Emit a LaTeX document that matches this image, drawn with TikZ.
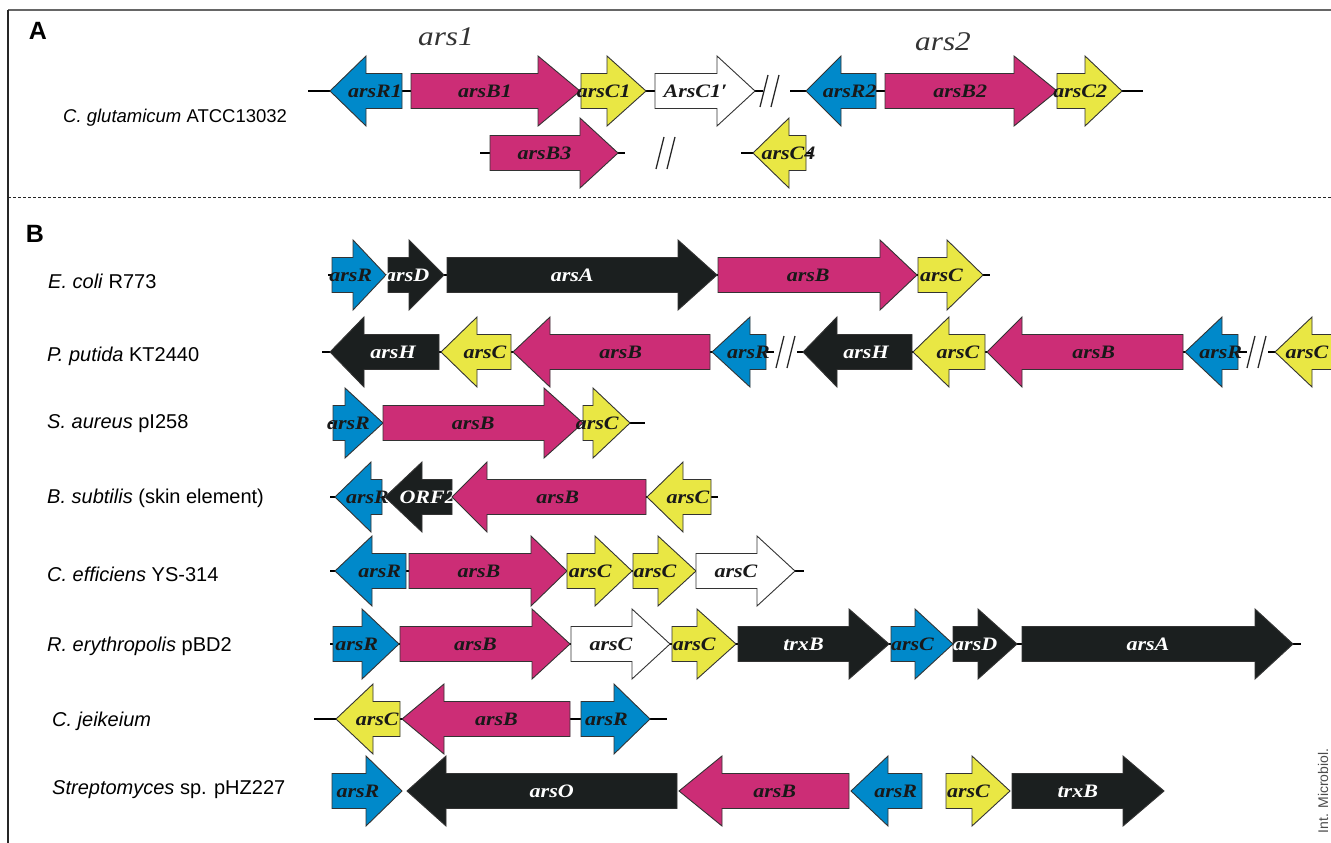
\documentclass[tikz,border=0pt]{standalone}
\usepackage{fontspec}
\setmainfont{Liberation Sans}
\newfontfamily\genefont[FakeStretch=1.16]{Liberation Serif}
\definecolor{cblue}{HTML}{0089CA}
\definecolor{cmag}{HTML}{CC2D76}
\definecolor{cyel}{HTML}{E9E744}
\definecolor{cblk}{HTML}{1B1F1F}
\definecolor{cwht}{HTML}{FFFFFF}
\colorlet{tblue}{black!90}
\colorlet{tmag}{black!90}
\colorlet{tyel}{black!90}
\colorlet{twht}{black!90}
\colorlet{tblk}{white}
\tikzset{
  genebox/.style={draw=black!80, line width=0.9pt, line join=miter},
  genelabel/.style={inner sep=0pt, font=\genefont\bfseries\itshape\fontsize{19}{20}\selectfont},
  backbone/.style={draw=black, line width=1.5pt},
  brkline/.style={draw=black!85, line width=1.3pt},
  species/.style={anchor=west, inner sep=0pt, font=\fontsize{20}{22}\selectfont},
  panel/.style={inner sep=0pt, font=\bfseries\fontsize{25}{27}\selectfont},
  cluster/.style={inner sep=0pt, text=black!80, font=\genefont\itshape\fontsize{27}{30}\selectfont}
}
% arrow body only: #1 tail x, #2 head base x, #3 tip x, #4 y, #5 colour key
\newcommand\genearrow[5]{%
  \draw[genebox, fill=c#5] (#1,#4-17.5) -- (#2,#4-17.5) -- (#2,#4-35) -- (#3,#4) -- (#2,#4+35) -- (#2,#4+17.5) -- (#1,#4+17.5) -- cycle;}
% #1 name, #2 tail x, #3 head base x, #4 tip x, #5 y, #6 colour key, #7 label
\newcommand\gene[7]{%
  \genearrow{#2}{#3}{#4}{#5}{#6}
  \node[genelabel, text=t#6] (#1) at ({(2*#2+#3+#4)/4},#5) {#7};}
\newcommand\brk[2]{%
  \draw[brkline] (#1-10,#2+16) -- (#1-2,#2-16);
  \draw[brkline] (#1+1,#2+16) -- (#1+9,#2-16);}
\begin{document}
\begin{tikzpicture}[x=1pt,y=-1pt]
\useasboundingbox (0,0) rectangle (1331,843);
% frame
\draw[black!60, line width=1.3pt] (8,10) -- (1331,10);
\draw[black!85, line width=1.2pt] (8,10) -- (8,843);
\draw[black!85, line width=1pt, dash pattern=on 3pt off 2pt] (8,197) -- (1331,197);
\node[panel] (pA) at (38,31) {A};
\node[panel] (pB) at (35,234) {B};
\node[cluster] (c1) at (446,37) {ars1};
\node[cluster] (c2) at (943,42) {ars2};
\node[rotate=90, inner sep=0pt, text=black!70, font=\fontsize{14}{15}\selectfont] (cred) at (1323,791) {Int. Microbiol.};

% species labels
\node[species, font=\fontsize{18.5}{20}\selectfont] (sA) at (63,118) {\textit{C. glutamicum} ATCC13032};
\node[species] (s1) at (48,281) {\textit{E. coli} R773};
\node[species] (s2) at (47,356) {\textit{P. putida} KT2440};
\node[species] (s3) at (47,424) {\textit{S. aureus} pI258};
\node[species] (s4) at (47,498) {\textit{B. subtilis} (skin element)};
\node[species] (s5) at (47,574) {\textit{C. efficiens} YS-314};
\node[species] (s6) at (47,646) {\textit{R. erythropolis} pBD2};
\node[species] (s7) at (52,721) {\textit{C. jeikeium}};
\node[species] (s8) at (52,790) {\textit{Streptomyces} sp. pHZ227};

% ---- Panel A
\draw[backbone] (308,91) -- (763,91);
\draw[backbone] (790,91) -- (1143,91);
\brk{770}{91}
\gene{aR1}{402}{366}{330}{91}{blue}{arsR1}
\gene{aB1}{411}{538}{580}{91}{mag}{arsB1}
\gene{aC1}{581}{607}{646}{91}{yel}{arsC1}
\gene{aC1p}{655}{717}{755}{91}{wht}{ArsC1′}
\gene{aR2}{876}{841}{806}{91}{blue}{arsR2}
\gene{aB2}{885}{1014}{1057}{91}{mag}{arsB2}
\gene{aC2}{1057}{1085}{1122}{91}{yel}{arsC2}

\draw[backbone] (480,153) -- (625,153);
\draw[backbone] (741,153) -- (813,153);
\brk{666}{153}
\gene{aB3}{490}{580}{618}{153}{mag}{arsB3}
\gene{aC4}{806}{789}{753}{153}{yel}{arsC4}

% ---- E. coli R773
\draw[backbone] (328,275) -- (990,275);
\gene{eR}{332}{353}{386}{275}{blue}{arsR}
\gene{eD}{388}{409}{444}{275}{blk}{arsD}
\gene{eA}{447}{678}{717}{275}{blk}{arsA}
\gene{eB}{718}{880}{917}{275}{mag}{arsB}
\gene{eC}{918}{947}{983}{275}{yel}{arsC}

% ---- P. putida KT2440
\draw[backbone] (322,352) -- (774,352);
\draw[backbone] (797,352) -- (1247,352);
\draw[backbone] (1268,352) -- (1331,352);
\brk{786}{352}
\brk{1257}{352}
\gene{pH1}{439}{364}{330}{352}{blk}{arsH}
\gene{pC1}{511}{477}{441}{352}{yel}{arsC}
\gene{pB1}{710}{550}{513}{352}{mag}{arsB}
\gene{pR1}{766}{750}{712}{352}{blue}{arsR}
\gene{pH2}{912}{837}{803}{352}{blk}{arsH}
\gene{pC2}{985}{949}{913}{352}{yel}{arsC}
\gene{pB2}{1183}{1022}{987}{352}{mag}{arsB}
\gene{pR2}{1238}{1222}{1185}{352}{blue}{arsR}
\genearrow{1335}{1312}{1275}{352}{yel}
\node[genelabel, text=tyel] (pC3) at (1307,352) {arsC};

% ---- S. aureus pI258
\draw[backbone] (330,423) -- (645,423);
\gene{sR}{333}{345}{383}{423}{blue}{arsR}
\gene{sB}{383}{544}{583}{423}{mag}{arsB}
\gene{sC}{583}{593}{630}{423}{yel}{arsC}

% ---- B. subtilis
\draw[backbone] (330,497) -- (718,497);
\gene{bR}{382}{371}{335}{497}{blue}{arsR}
\gene{bO}{452}{422}{385}{497}{blk}{ORF2}
\gene{bB}{646}{487}{452}{497}{mag}{arsB}
\gene{bC}{711}{683}{647}{497}{yel}{arsC}

% ---- C. efficiens YS-314
\draw[backbone] (330,571) -- (804,571);
\gene{cR}{406}{372}{335}{571}{blue}{arsR}
\gene{cB}{409}{531}{567}{571}{mag}{arsB}
\gene{cC1}{567}{595}{632}{571}{yel}{arsC}
\gene{cC2}{633}{658}{696}{571}{yel}{arsC}
\gene{cC3}{696}{757}{795}{571}{wht}{arsC}

% ---- R. erythropolis pBD2
\draw[backbone] (330,644) -- (1301,644);
\gene{rR}{333}{362}{399}{644}{blue}{arsR}
\gene{rB}{400}{532}{570}{644}{mag}{arsB}
\gene{rC1}{571}{632}{670}{644}{wht}{arsC}
\gene{rC2}{672}{697}{736}{644}{yel}{arsC}
\gene{rT}{738}{849}{889}{644}{blk}{trxB}
\gene{rC3}{891}{915}{953}{644}{blue}{arsC}
\gene{rD}{953}{978}{1017}{644}{blk}{arsD}
\gene{rA}{1022}{1255}{1293}{644}{blk}{arsA}

% ---- C. jeikeium
\draw[backbone] (314,719) -- (667,719);
\gene{jC}{400}{373}{336}{719}{yel}{arsC}
\gene{jB}{570}{444}{402}{719}{mag}{arsB}
\gene{jR}{581}{614}{650}{719}{blue}{arsR}

% ---- Streptomyces sp. pHZ227
\gene{tR1}{332}{366}{402}{791}{blue}{arsR}
\gene{tO}{677}{446}{407}{791}{blk}{arsO}
\gene{tB}{849}{722}{679}{791}{mag}{arsB}
\gene{tR2}{922}{888}{851}{791}{blue}{arsR}
\gene{tC}{946}{972}{1010}{791}{yel}{arsC}
\gene{tT}{1012}{1123}{1164}{791}{blk}{trxB}
\end{tikzpicture}
\end{document}
